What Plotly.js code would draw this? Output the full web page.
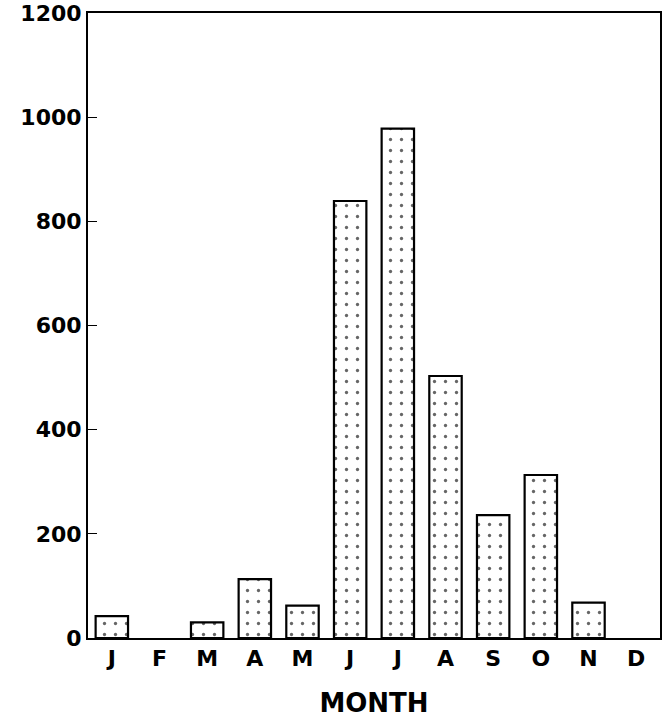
<!DOCTYPE html>
<html><head><meta charset="utf-8">
<script src="https://cdn.plot.ly/plotly-3.0.1.min.js"></script>
<style>html,body{margin:0;padding:0;background:#fff}#c{width:666px;height:721px}</style>
</head><body><div id="c"></div>
<script>
var months = ["J","F","M","A","M ","J ","J  ","A ","S","O","N","D"];
var counts = [42, 0, 30, 113, 62, 839, 978, 503, 236, 313, 68, 0];
var yTicks = [0, 200, 400, 600, 800, 1000, 1200];

var trace = {
  type: "bar",
  x: months,
  y: counts.map(function(v){return v === 0 ? null : v;}),
  width: 0.68,
  marker: {
    color: "#ffffff",
    line: {color: "#000000", width: 2.2},
    pattern: {shape: ".", fgcolor: "#666666", bgcolor: "#ffffff", size: 11, solidity: 0.07}
  },
  hoverinfo: "skip"
};

var F = "DejaVu Sans, Liberation Sans, Arial, sans-serif";
var layout = {
  width: 666, height: 721,
  margin: {l: 88, r: 6, t: 13, b: 83},
  paper_bgcolor: "#fff", plot_bgcolor: "#fff",
  showlegend: false,
  font: {family: F, color: "#000"},
  xaxis: {
    type: "category",
    tickvals: months,
    ticktext: months.map(function(s){return s.trim();}),
    tickfont: {size: 22, family: F, weight: "bold"},
    showline: true, linecolor: "#000", linewidth: 2, mirror: true,
    ticks: "", showgrid: false, zeroline: false,
    title: {text: "<b>MONTH</b>", font: {size: 26, family: F}, standoff: 23}
  },
  yaxis: {
    range: [0, 1200],
    tickvals: yTicks,
    ticktext: yTicks.map(String),
    tickfont: {size: 22, family: F, weight: "bold"},
    showline: true, linecolor: "#000", linewidth: 2, mirror: true,
    ticks: "inside", ticklen: 9, tickwidth: 1, tickcolor: "#000",
    showgrid: false, zeroline: false
  }
};

Plotly.newPlot("c", [trace], layout, {staticPlot: true, displayModeBar: false});
</script></body></html>
